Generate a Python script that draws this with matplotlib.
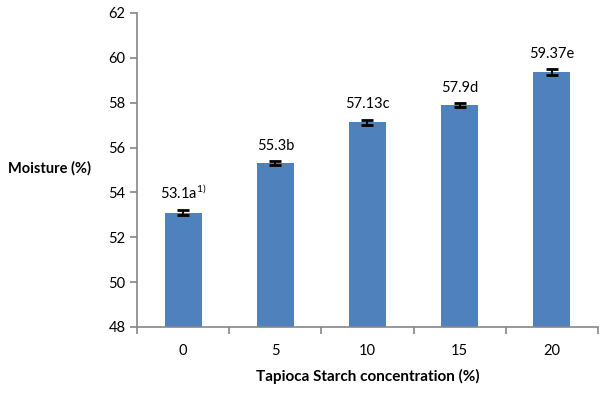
import matplotlib.pyplot as plt
import numpy as np

plt.rcParams['font.family'] = ['Lato', 'DejaVu Sans']
plt.rcParams['mathtext.fontset'] = 'custom'
plt.rcParams['mathtext.rm'] = 'Lato'

conc = ['0', '5', '10', '15', '20']
moisture = [53.1, 55.3, 57.13, 57.9, 59.37]
err = [0.1, 0.08, 0.12, 0.08, 0.12]
letters = ['a', 'b', 'c', 'd', 'e']

fig = plt.figure(figsize=(5.99, 3.93), dpi=100)
ax = fig.add_axes([0.229, 0.168, 0.769, 0.799])

x = np.arange(len(conc))
ax.bar(x, np.array(moisture) - 48, bottom=48, width=0.4, color='#4F81BD', zorder=2)
ax.errorbar(x, moisture, yerr=err, fmt='none', ecolor='black', elinewidth=1.5,
            capsize=4, capthick=2, zorder=3)

for i, (v, e, l) in enumerate(zip(moisture, err, letters)):
    txt = f'{v:g}{l}'
    if i == 0:
        txt += r'$^{\mathregular{1)}}$'
    ax.annotate(txt, (x[i], v + e), xytext=(0, 6), textcoords='offset points',
                ha='center', va='bottom', fontsize=10.5)

ax.set_xlim(-0.5, len(conc) - 0.5)
ax.set_ylim(48, 62)
ax.set_yticks(np.arange(48, 63, 2))
ax.set_xticks(x)
ax.set_xticklabels(conc)
ax.set_xticks(np.arange(-0.5, len(conc), 1), minor=True)

for s in ['top', 'right']:
    ax.spines[s].set_visible(False)
for s in ['left', 'bottom']:
    ax.spines[s].set_color('#868686')
    ax.spines[s].set_linewidth(1.2)

ax.tick_params(axis='y', colors='#868686', labelcolor='black', labelsize=10.5,
               length=5, width=1.2)
ax.tick_params(axis='x', which='major', length=0, labelsize=10.5, pad=12)
ax.tick_params(axis='x', which='minor', colors='#868686', length=5, width=1.2)

ax.set_xlabel('Tapioca Starch concentration (%)', fontsize=11, fontweight='bold',
              labelpad=8)
# horizontal y label sitting at the far left of the figure
fig.text(8 / 599, 1 - 168 / 393, 'Moisture (%)', fontsize=10.5, fontweight='bold',
         ha='left', va='center')

fig.savefig('out.png', dpi=100)
